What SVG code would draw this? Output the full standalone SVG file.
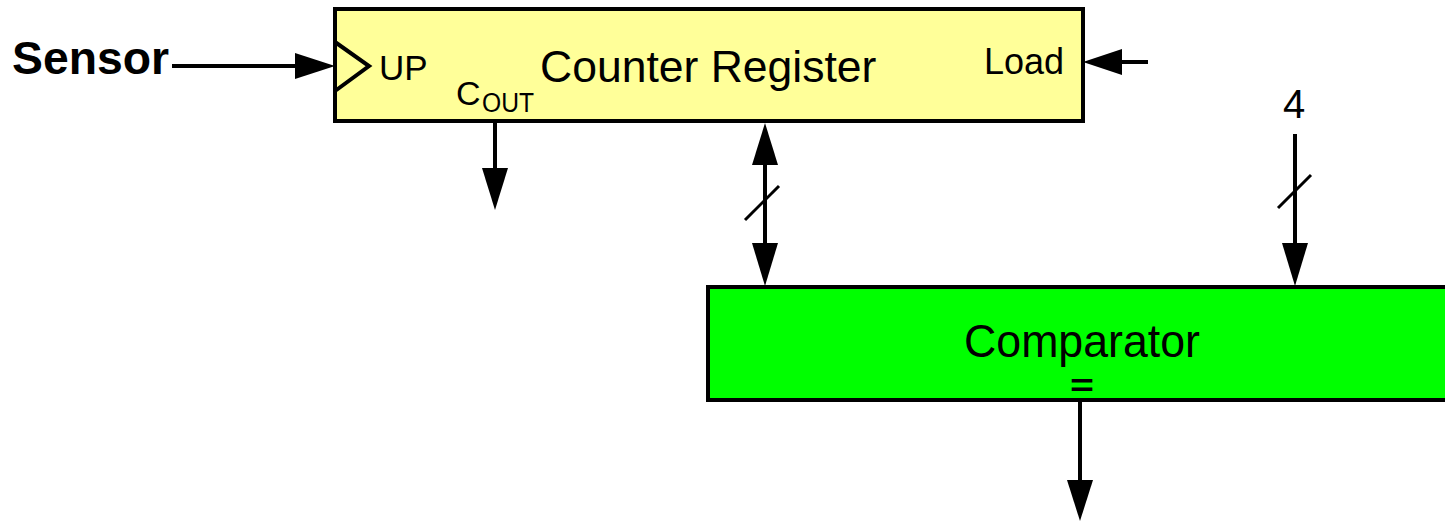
<svg xmlns="http://www.w3.org/2000/svg" width="1445" height="523" viewBox="0 0 1445 523">
  <style>
    .box { stroke: #000; stroke-width: 4; }
    .wire { stroke: #000; stroke-width: 4; fill: none; }
    .slash { stroke: #000; stroke-width: 3; fill: none; }
    .lbl { font-family: "Liberation Sans", Arial, sans-serif; fill: #000; }
    .head { fill: #000; }
  </style>
  <rect width="1445" height="523" fill="#fff"/>

  <!-- connectors -->
  <g id="connectors">
    <!-- Sensor into clock input -->
    <line class="wire" x1="172" y1="66" x2="300" y2="66"/>
    <polygon class="head" points="335,66 295,53 295,79"/>
    <!-- Load input -->
    <line class="wire" x1="1148" y1="62" x2="1115" y2="62"/>
    <polygon class="head" points="1083,62 1122,49 1122,75"/>
    <!-- carry out -->
    <line class="wire" x1="495" y1="121" x2="495" y2="175"/>
    <polygon class="head" points="495,210 482,168 508,168"/>
    <!-- bus between register and comparator -->
    <line class="wire" x1="765" y1="150" x2="765" y2="255"/>
    <polygon class="head" points="765,123 752,165 778,165"/>
    <polygon class="head" points="765,286 752,243 778,243"/>
    <line class="slash" x1="745" y1="220" x2="779" y2="186"/>
    <!-- constant 4 input -->
    <line class="wire" x1="1295" y1="134" x2="1295" y2="255"/>
    <polygon class="head" points="1295,286 1282,243 1308,243"/>
    <line class="slash" x1="1278" y1="208" x2="1311" y2="175"/>
    <!-- comparator output -->
    <line class="wire" x1="1080" y1="400" x2="1080" y2="490"/>
    <polygon class="head" points="1080,521 1067,480 1093,480"/>
  </g>

  <g id="sensor">
    <text class="lbl" x="12" y="74" font-family="'DejaVu Sans', Verdana, sans-serif" font-weight="bold" font-size="46" textLength="157" lengthAdjust="spacingAndGlyphs">Sensor</text>
  </g>

  <g id="counter-register">
    <rect class="box" x="335" y="9" width="748" height="112" fill="#ffff99"/>
    <polyline class="wire" points="335,42 369,66 335,91"/>
    <text class="lbl" x="379" y="80" font-size="35">UP</text>
    <text class="lbl" x="540" y="82" font-size="44.5">Counter Register</text>
    <text class="lbl" x="456" y="105" font-size="34">C</text>
    <text class="lbl" x="482" y="112" font-size="27" textLength="52" lengthAdjust="spacingAndGlyphs">OUT</text>
    <text class="lbl" x="984" y="74" font-size="36">Load</text>
  </g>

  <g id="constant">
    <text class="lbl" x="1294" y="118" font-size="40" text-anchor="middle">4</text>
  </g>

  <g id="comparator">
    <rect class="box" x="708" y="287" width="745" height="113" fill="#00ff00"/>
    <text class="lbl" x="964" y="357" font-size="46" textLength="236" lengthAdjust="spacingAndGlyphs">Comparator</text>
    <text class="lbl" x="1070" y="396" font-size="32" font-weight="bold" textLength="24" lengthAdjust="spacingAndGlyphs">=</text>
  </g>
</svg>
